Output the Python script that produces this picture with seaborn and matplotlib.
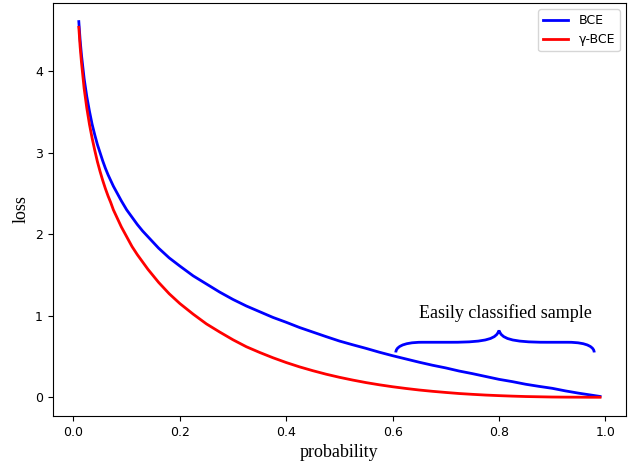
import matplotlib
matplotlib.use("Agg")
import matplotlib.pyplot as plt
from matplotlib.path import Path
from matplotlib.patches import PathPatch
import seaborn as sns
import pandas as pd

# values
probability = [0.01, 0.0125, 0.015, 0.02, 0.025, 0.03, 0.035, 0.04, 0.045, 0.05, 0.055,
               0.06, 0.065, 0.07, 0.075, 0.085, 0.09, 0.1, 0.11, 0.12, 0.13, 0.14, 0.15,
               0.16, 0.18, 0.2, 0.225, 0.25, 0.275, 0.3, 0.325, 0.35, 0.375, 0.4, 0.425,
               0.45, 0.475, 0.5, 0.525, 0.55, 0.575, 0.6, 0.625, 0.65, 0.675, 0.7, 0.725,
               0.75, 0.775, 0.8, 0.825, 0.85, 0.875, 0.9, 0.925, 0.95, 0.97, 0.99]
bce_loss = [4.61, 4.38, 4.20, 3.91, 3.69, 3.51, 3.35, 3.22, 3.10, 3.00, 2.90,
            2.81, 2.73, 2.66, 2.59, 2.47, 2.41, 2.30, 2.21, 2.12, 2.04, 1.97, 1.90,
            1.83, 1.71, 1.61, 1.49, 1.39, 1.29, 1.20, 1.12, 1.05, 0.98, 0.92, 0.856,
            0.80, 0.744, 0.69, 0.644, 0.60, 0.553, 0.51, 0.47, 0.43, 0.393, 0.36, 0.322,
            0.29, 0.255, 0.22, 0.192, 0.16, 0.134, 0.11, 0.078, 0.05, 0.03, 0.01]
gbce_loss = [4.54, 4.30, 4.11, 3.79, 3.55, 3.35, 3.18, 3.03, 2.89, 2.77, 2.66,
             2.56, 2.47, 2.39, 2.30, 2.16, 2.09, 1.97, 1.85, 1.75, 1.66, 1.57, 1.49,
             1.41, 1.27, 1.15, 1.02, 0.90, 0.80, 0.705, 0.62, 0.55, 0.485, 0.426, 0.373,
             0.326, 0.283, 0.245, 0.211, 0.18, 0.153, 0.129, 0.108, 0.089, 0.073, 0.059, 0.046,
             0.036, 0.027, 0.020, 0.014, 0.009, 0.006, 0.003, 0.0016, 0.001, 0.0002, 0.0]

df = pd.DataFrame({"probability": probability, "BCE": bce_loss, "γ-BCE": gbce_loss})

fig = plt.figure(figsize=(6.28, 4.68), dpi=100)
ax = fig.add_axes([0.084, 0.111, 0.913, 0.883])

sns.lineplot(data=df, x="probability", y="BCE", color="blue", lw=2, label="BCE", ax=ax)
sns.lineplot(data=df, x="probability", y="γ-BCE", color="red", lw=2, label="γ-BCE", ax=ax)

serif = {"family": "Liberation Serif", "size": 13}
ax.set_xlabel("probability", fontdict=serif)
ax.set_ylabel("loss", fontdict=serif)
ax.set_xticks([0.0, 0.2, 0.4, 0.6, 0.8, 1.0])
ax.set_yticks([0, 1, 2, 3, 4])
ax.tick_params(labelsize=9)
ax.legend(loc="upper right", fontsize=9)

# curly brace over the easily classified region
xl, xm, xr = 0.606, 0.80, 0.979
yb, yh, yt = 0.55, 0.675, 0.82
verts = [(xl, yb), (xl, yh - 0.07), (xl + 0.01, yh), (xl + 0.05, yh),
         (xm - 0.09, yh),
         (xm - 0.02, yh), (xm - 0.005, yh + 0.05), (xm, yt),
         (xm + 0.005, yh + 0.05), (xm + 0.02, yh), (xm + 0.09, yh),
         (xr - 0.05, yh),
         (xr - 0.01, yh), (xr, yh - 0.07), (xr, yb)]
codes = [Path.MOVETO, Path.CURVE4, Path.CURVE4, Path.CURVE4,
         Path.LINETO,
         Path.CURVE4, Path.CURVE4, Path.CURVE4,
         Path.CURVE4, Path.CURVE4, Path.CURVE4,
         Path.LINETO,
         Path.CURVE4, Path.CURVE4, Path.CURVE4]
ax.add_patch(PathPatch(Path(verts, codes), fill=False, color="blue", lw=2))
ax.text(0.812, 1.03, "Easily classified sample", ha="center", va="center",
        family="Liberation Serif", fontsize=13)

fig.savefig("out.png", dpi=100)
